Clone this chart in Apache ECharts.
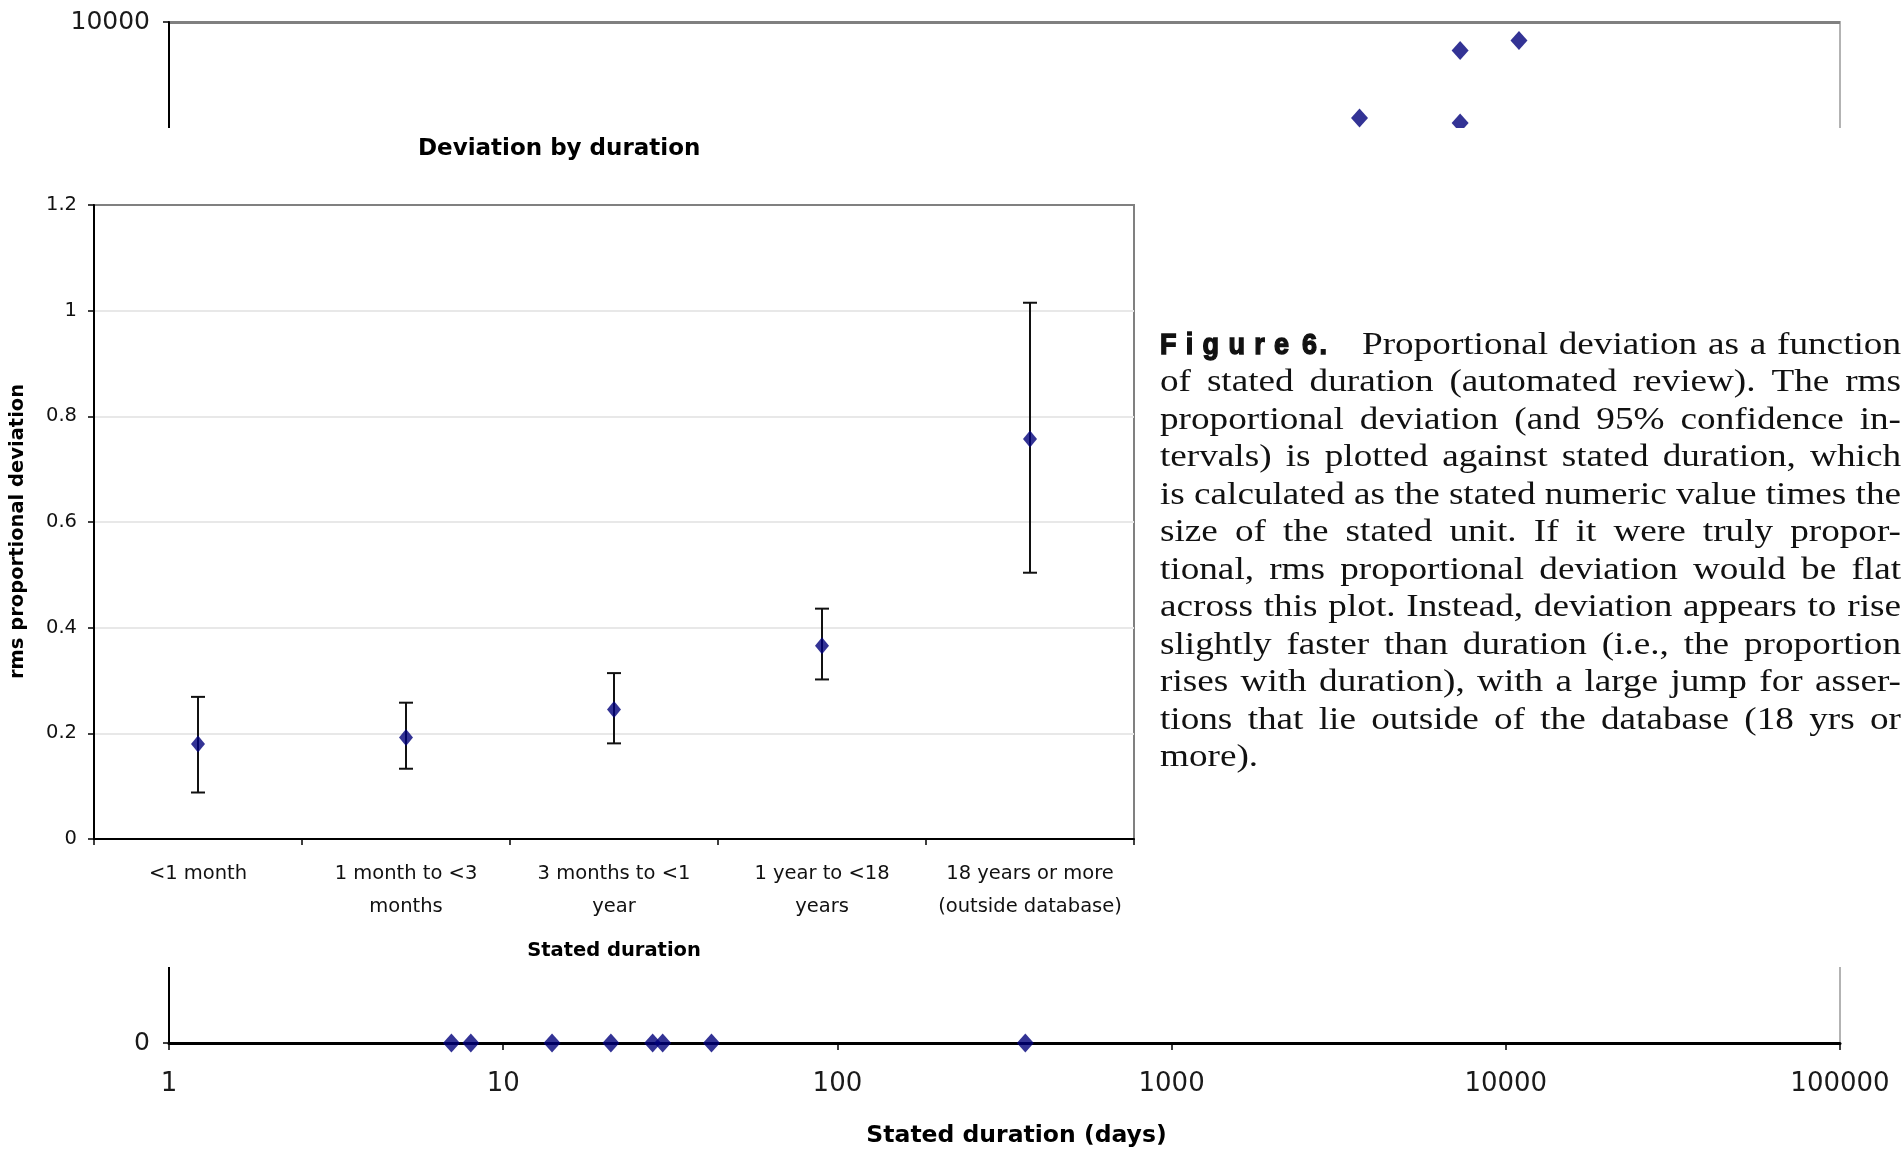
<!DOCTYPE html>
<html><head><meta charset="utf-8">
<script src="https://cdn.jsdelivr.net/npm/echarts@6/dist/echarts.min.js"></script>
<style>html,body{margin:0;padding:0;background:#fff;}#chart{width:1903px;height:1153px;}</style>
</head><body><div id="chart"></div>
<script>
// ---- background scatter: stated duration (days) vs deviation (days) ----
const statedDays    = [3650, 7300, 10950, 7300, 7, 8, 14, 21, 28, 30, 42, 365];
const deviationDays = [9060, 9720, 9820, 9010, 0, 0, 0, 0, 0, 0, 0, 0];

// ---- inset: deviation by duration ----
const durationCategories = ['<1 month', '1 month to <3\nmonths', '3 months to <1\nyear', '1 year to <18\nyears', '18 years or more\n(outside database)'];
const rmsDeviation = [0.180, 0.192, 0.245, 0.366, 0.757];
const ciLower      = [0.088, 0.133, 0.181, 0.302, 0.504];
const ciUpper      = [0.269, 0.258, 0.314, 0.436, 1.015];

// ---- caption ----
const captionLabel = ['Figure', '6.'];
const captionLines = [
  'Proportional deviation as a function',
  'of stated duration (automated review). The rms',
  'proportional deviation (and 95% confidence in-',
  'tervals) is plotted against stated duration, which',
  'is calculated as the stated numeric value times the',
  'size of the stated unit. If it were truly propor-',
  'tional, rms proportional deviation would be flat',
  'across this plot. Instead, deviation appears to rise',
  'slightly faster than duration (i.e., the proportion',
  'rises with duration), with a large jump for asser-',
  'tions that lie outside of the database (18 yrs or',
  'more).'
];

const FONT = '"DejaVu Sans", sans-serif';
const ctx = document.createElement('canvas').getContext('2d');
function tw(t, font) { ctx.font = font; return ctx.measureText(t).width; }

const capEls = [];
function addWord(txt, x, baseY, font, size, sx, heavy) {
  const style = { text: txt, font: font, fill: '#111', align: 'left', verticalAlign: 'middle', textAlign: 'left', textVerticalAlign: 'middle' };
  if (heavy) { style.stroke = '#111'; style.lineWidth = 1.4; }
  capEls.push({ type: 'text', zlevel: 2, z: 10, x: x, y: baseY - 0.34 * size, scaleX: sx, style: style });
}
const capFontSize = 31;
const capFont = capFontSize + 'px "Liberation Serif", "Times New Roman", serif';
const capLeft = 1160, capRight = 1901, capBase0 = 356, capPitch = 37.5, capScale = 1.2;
captionLines.forEach(function (line, li) {
  const base = capBase0 + li * capPitch;
  const start = li === 0 ? 1362 : capLeft;
  const words = line.split(' ');
  const ws = words.map(function (w) { return tw(w, capFont); });
  const spaceW = tw(' ', capFont);
  let s = capScale, gap;
  const last = li === captionLines.length - 1;
  if (last || words.length < 2) { gap = spaceW * s; }
  else {
    const sum = ws.reduce(function (a, b) { return a + b; }, 0);
    const avail = capRight - start;
    gap = (avail - sum * s) / (words.length - 1);
    const minGap = spaceW * 0.7;
    if (gap < minGap) { gap = minGap; s = (avail - (words.length - 1) * minGap) / sum; }
  }
  let x = start;
  words.forEach(function (w, j) { addWord(w, x, base, capFont, capFontSize, s, false); x += ws[j] * s + gap; });
});
// "Figure 6." label, bold condensed and letter-spaced
const figSize = 30, figScale = 0.9;
const figFont = 'bold ' + figSize + 'px "Liberation Sans", Arial, sans-serif';
function placeSpaced(t, x0, x1) {
  const chars = t.split('');
  const cw = chars.map(function (c) { return tw(c, figFont) * figScale; });
  const sum = cw.reduce(function (a, b) { return a + b; }, 0);
  const sp = chars.length > 1 ? (x1 - x0 - sum) / (chars.length - 1) : 0;
  let x = x0;
  chars.forEach(function (c, k) { addWord(c, x, capBase0, figFont, figSize, figScale, true); x += cw[k] + sp; });
}
placeSpaced(captionLabel[0], 1160, 1289);
placeSpaced(captionLabel[1], 1302, 1327);

const chart = echarts.init(document.getElementById('chart'), null, { renderer: 'canvas' });
const option = {
  backgroundColor: '#fff',
  animation: false,
  title: {
    text: 'Deviation by duration', left: 413, top: 133, zlevel: 2,
    textStyle: { fontFamily: FONT, fontSize: 23, fontWeight: 'bold', color: '#000' }
  },
  grid: [
    { left: 169, right: 63, top: 22, bottom: 105.5, show: true, borderColor: '#b3b3b3', borderWidth: 2, zlevel: 0 },
    { left: 92, right: 769, top: 205, bottom: 314, show: true, borderColor: '#808080', borderWidth: 2, backgroundColor: '#fff', zlevel: 2 }
  ],
  xAxis: [
    {
      type: 'log', logBase: 10, min: 1, max: 100000, gridIndex: 0, zlevel: 0,
      name: 'Stated duration (days)', nameLocation: 'middle', nameGap: 81,
      nameTextStyle: { fontFamily: FONT, fontSize: 23.5, fontWeight: 'bold', color: '#000', padding: [0, 0, 0, 24] },
      axisLine: { show: true, onZero: false, lineStyle: { color: '#000', width: 3 } },
      axisTick: { show: true, length: 7, lineStyle: { color: '#000', width: 1.5 } },
      axisLabel: { fontFamily: FONT, fontSize: 26, color: '#1a1a1a', margin: 28, formatter: function (v) { return String(Math.round(v)); } },
      splitLine: { show: false }, minorTick: { show: false }
    },
    {
      type: 'category', data: durationCategories, gridIndex: 1, zlevel: 2,
      name: 'Stated duration', nameLocation: 'middle', nameGap: 102,
      nameTextStyle: { fontFamily: FONT, fontSize: 19.5, fontWeight: 'bold', color: '#000' },
      axisLine: { show: true, lineStyle: { color: '#000', width: 2 } },
      axisTick: { show: true, length: 6, lineStyle: { color: '#000', width: 1.5 } },
      axisLabel: { fontFamily: FONT, fontSize: 19.5, color: '#111', margin: 18, lineHeight: 33, interval: 0 },
      splitLine: { show: false }
    }
  ],
  yAxis: [
    {
      type: 'value', min: 0, max: 10000, interval: 2000, gridIndex: 0, zlevel: 0,
      axisLine: { show: true, onZero: false, lineStyle: { color: '#000', width: 2 } },
      axisTick: { show: true, length: 6, lineStyle: { color: '#000', width: 1.5 } },
      axisLabel: { fontFamily: FONT, fontSize: 25, color: '#1a1a1a', margin: 19, formatter: function (v) { return String(Math.round(v)); } },
      splitLine: { show: true, lineStyle: { color: ['#e6e6e6', '#e6e6e6', '#e6e6e6', '#e6e6e6', '#e6e6e6', '#808080'], width: 3 } }
    },
    {
      type: 'value', min: 0, max: 1.2, interval: 0.2, gridIndex: 1, zlevel: 2,
      name: 'rms proportional deviation', nameLocation: 'middle', nameGap: 66,
      nameTextStyle: { fontFamily: FONT, fontSize: 19.5, fontWeight: 'bold', color: '#000', padding: [0, 19, 0, 0] },
      axisLine: { show: true, onZero: false, lineStyle: { color: '#000', width: 2 } },
      axisTick: { show: true, length: 6, lineStyle: { color: '#000', width: 1.5 } },
      axisLabel: { fontFamily: FONT, fontSize: 19.5, color: '#111', margin: 17 },
      splitLine: { show: true, lineStyle: { color: ['#e8e8e8', '#e8e8e8', '#e8e8e8', '#e8e8e8', '#e8e8e8', '#e8e8e8', '#808080'], width: 2 } }
    }
  ],
  graphic: {
    elements: [
      { type: 'rect', zlevel: 1, z: 0, shape: { x: 0, y: 128, width: 1903, height: 839 }, style: { fill: '#fff' } }
    ].concat(capEls)
  },
  series: [
    {
      type: 'scatter', xAxisIndex: 0, yAxisIndex: 0, zlevel: 0, z: 3, clip: false,
      symbol: 'diamond', symbolSize: [17, 19],
      itemStyle: { color: '#00007a' },
      data: statedDays.map(function (d, i) { return [d, deviationDays[i]]; })
    },
    {
      type: 'custom', xAxisIndex: 1, yAxisIndex: 1, zlevel: 2, z: 2,
      data: durationCategories.map(function (c, i) { return [i, ciLower[i], ciUpper[i]]; }),
      encode: { x: 0, y: [1, 2] },
      renderItem: function (params, api) {
        const i = api.value(0);
        const lo = api.coord([i, api.value(1)]);
        const hi = api.coord([i, api.value(2)]);
        const hw = 7;
        const st = { stroke: '#111', lineWidth: 2 };
        return {
          type: 'group', children: [
            { type: 'line', shape: { x1: lo[0], y1: lo[1], x2: hi[0], y2: hi[1] }, style: st },
            { type: 'line', shape: { x1: lo[0] - hw, y1: lo[1], x2: lo[0] + hw, y2: lo[1] }, style: st },
            { type: 'line', shape: { x1: hi[0] - hw, y1: hi[1], x2: hi[0] + hw, y2: hi[1] }, style: st }
          ]
        };
      }
    },
    {
      type: 'scatter', xAxisIndex: 1, yAxisIndex: 1, zlevel: 2, z: 3,
      symbol: 'diamond', symbolSize: [14, 17],
      itemStyle: { color: '#00007a' },
      data: rmsDeviation
    }
  ]
};
chart.setOption(option);
</script>
</body></html>
